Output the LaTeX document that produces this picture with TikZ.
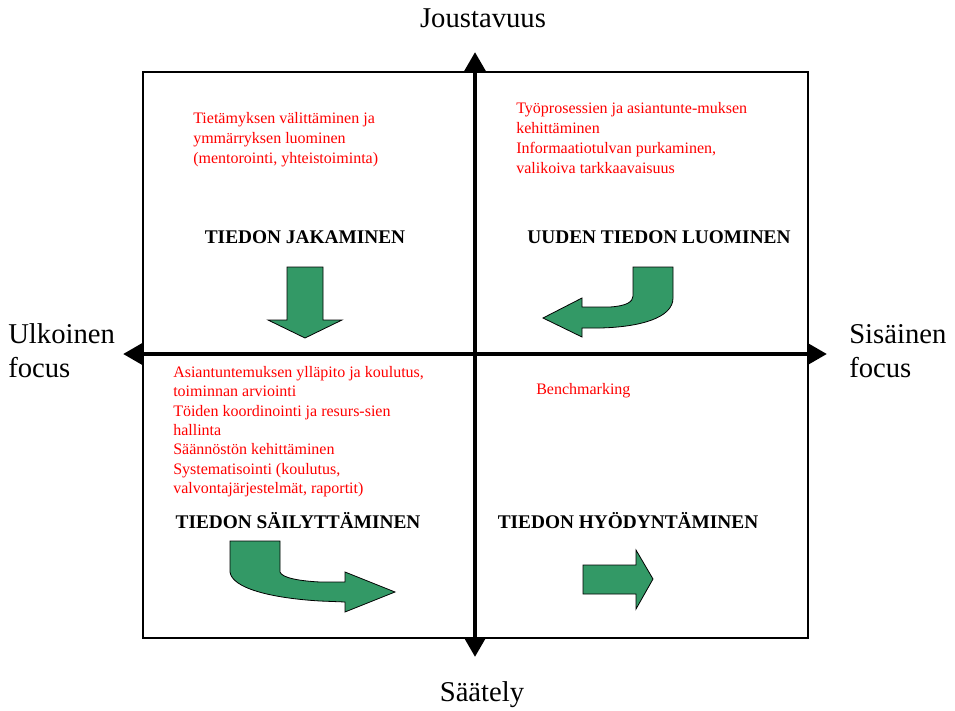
\documentclass[tikz,border=0pt]{standalone}
\usepackage{fontspec}
\setmainfont{Liberation Serif}
\usepackage{tikz}
\usetikzlibrary{arrows.meta,positioning}
\definecolor{arrowgreen}{RGB}{51,153,102}
\definecolor{notered}{RGB}{255,0,0}

\begin{document}
\begin{tikzpicture}[
  x=0.75pt, y=-0.75pt,
  frame/.style={draw=black, line width=0.8pt},
  axis/.style={line width=3.6pt, {Triangle[length=15pt,width=16pt]}-{Triangle[length=15pt,width=16pt]}},
  axlabel/.style={inner sep=0pt, align=left, font=\fontsize{21.5}{25.5}\selectfont},
  note/.style={inner sep=0pt, align=left, text=notered, font=\fontsize{12}{15}\selectfont},
  title/.style={inner sep=0pt, font=\fontsize{14.5}{17}\selectfont\bfseries},
  turn/.style={fill=arrowgreen, draw=black, line width=0.6pt, line join=miter}
]
\useasboundingbox (0,0) rectangle (955,710);

\draw[frame] (143,72) rectangle (808,638);

\coordinate (top) at (475,52);
\coordinate (bot) at (475,657);
\coordinate (lft) at (123,354);
\coordinate (rgt) at (827,354);
\draw[axis] (bot) -- (top);
\draw[axis] (lft) -- (rgt);

\node[axlabel] (flex) at (483,18) {Joustavuus};
\node[axlabel] (ctrl) at (482,695) {Säätely};
\node[axlabel, anchor=west] (ext) at (8,351) {Ulkoinen\\focus};
\node[axlabel, anchor=west] (int) at (849,351) {Sisäinen\\focus};

\node[note, anchor=north west] (share) at (193,112)
  {Tietämyksen välittäminen ja\\ymmärryksen luominen\\(mentorointi, yhteistoiminta)};
\node[note, anchor=north west] (create) at (516,102)
  {Työprosessien ja asiantunte-muksen\\kehittäminen\\Informaatiotulvan purkaminen,\\valikoiva tarkkaavaisuus};
\node[note, anchor=north west, font=\fontsize{12}{14.5}\selectfont] (keep) at (173,366)
  {Asiantuntemuksen ylläpito ja koulutus,\\toiminnan arviointi\\Töiden koordinointi ja resurs-sien\\hallinta\\Säännöstön kehittäminen\\Systematisointi (koulutus,\\valvontajärjestelmät, raportit)};
\node[note, anchor=west] (use) at (536,391) {Benchmarking};

\node[title] (jak) at (305,237) {TIEDON JAKAMINEN};
\node[title] (luo) at (659,237) {UUDEN TIEDON LUOMINEN};
\node[title] (sai) at (298,521) {TIEDON SÄILYTTÄMINEN};
\node[title] (hyo) at (628,521) {TIEDON HYÖDYNTÄMINEN};

\filldraw[turn] (287,267) -- (323,267) -- (323,320) -- (342,320) -- (305,338)
  -- (268,320) -- (287,320) -- cycle;
\filldraw[turn] (633,267) -- (673,267) -- (673,298)
  .. controls (673,318) and (640,327) .. (600,328) -- (582,328) -- (582,337)
  -- (543,318) -- (582,298) -- (582,307) -- (610,307)
  .. controls (626,306) and (633,302) .. (633,296) -- cycle;
\filldraw[turn] (230,541) -- (280,541) -- (280,572)
  .. controls (282,578) and (300,581) .. (320,582) -- (345,582) -- (345,572)
  -- (395,592) -- (345,612) -- (345,602) -- (320,601)
  .. controls (270,598) and (232,588) .. (230,572) -- cycle;
\filldraw[turn] (583,565) -- (636,565) -- (636,550) -- (653,579) -- (636,609)
  -- (636,594) -- (583,594) -- cycle;
\end{tikzpicture}
\end{document}
